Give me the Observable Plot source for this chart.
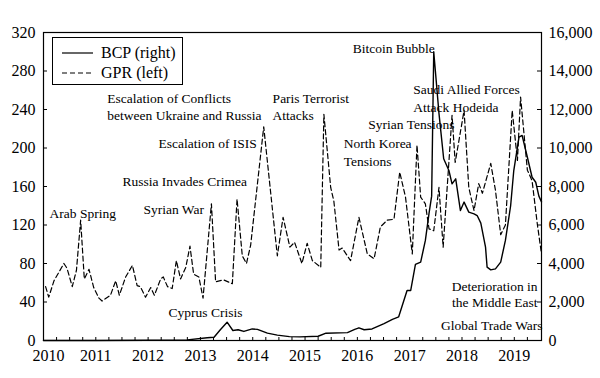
<!DOCTYPE html>
<html>
<head>
<meta charset="utf-8">
<script src="https://cdn.jsdelivr.net/npm/d3@7"></script>
<script src="https://cdn.jsdelivr.net/npm/@observablehq/plot@0.6"></script>
<style>
  html, body { margin: 0; padding: 0; background: #fff; }
  #wrap { position: relative; width: 600px; height: 378px; font-family: "Liberation Serif", "Times New Roman", serif; }
  #legend { position: absolute; left: 52px; top: 37px; width: 131px; height: 48px; box-sizing: border-box;
            border: 1px solid #000; background: #fff; }
  #legend svg { position: absolute; left: 0; top: 0; }
</style>
</head>
<body>
<div id="wrap"></div>
<script>
// GPR index (left axis): [decimal year, value]
const gpr = [
  [2010.04,56],[2010.10,45],[2010.20,62],[2010.39,80],[2010.45,75],[2010.55,56],[2010.63,73],[2010.71,125],
  [2010.78,64],[2010.87,74],[2010.96,55],[2011.06,44],[2011.12,41],[2011.28,47],[2011.38,62],[2011.45,47],
  [2011.57,66],[2011.70,78],[2011.79,57],[2011.85,56],[2011.95,45],[2012.05,55],[2012.12,47],[2012.24,64],
  [2012.29,66],[2012.37,56],[2012.46,54],[2012.54,83],[2012.62,64],[2012.72,76],[2012.80,98],[2012.87,69],
  [2012.97,66],[2013.05,44],[2013.21,142],[2013.29,61],[2013.44,63],[2013.61,59],[2013.70,147],[2013.80,88],
  [2013.88,80],[2013.96,99],[2014.21,222],[2014.47,88],[2014.58,128],[2014.71,97],[2014.80,102],[2014.94,80],
  [2015.04,101],[2015.14,83],[2015.30,76],[2015.36,235],[2015.49,159],[2015.55,145],[2015.65,94],[2015.71,96],
  [2015.87,83],[2016.03,128],[2016.19,90],[2016.32,85],[2016.44,118],[2016.57,125],[2016.70,126],[2016.81,175],
  [2016.92,149],[2017.05,90],[2017.14,203],[2017.21,149],[2017.30,142],[2017.37,116],[2017.46,114],[2017.56,159],
  [2017.64,97],[2017.81,234],[2017.87,185],[2018.04,239],[2018.13,159],[2018.23,135],[2018.32,163],[2018.39,153],
  [2018.55,184],[2018.64,156],[2018.74,110],[2018.83,120],[2018.96,239],[2019.06,187],[2019.12,253],[2019.25,177],
  [2019.34,166],[2019.44,121],[2019.52,90]
];
// Bitcoin price (right axis): [decimal year, USD]
const bcp = [
  [2010.00,0],[2011.00,2],[2012.00,10],[2012.50,15],[2012.75,35],[2013.13,140],[2013.26,170],[2013.38,560],
  [2013.51,950],[2013.62,520],[2013.72,560],[2013.83,470],[2013.99,600],[2014.09,580],[2014.28,380],[2014.47,280],
  [2014.70,200],[2014.90,190],[2015.25,220],[2015.40,380],[2015.81,410],[2015.95,580],[2016.03,660],[2016.13,560],
  [2016.28,600],[2016.51,880],[2016.67,1100],[2016.79,1230],[2016.95,2600],[2017.02,2600],[2017.11,3950],[2017.21,4070],
  [2017.30,5200],[2017.37,6600],[2017.42,7500],[2017.46,15000],[2017.56,11800],[2017.65,9440],[2017.75,8830],[2017.81,8140],
  [2017.88,8400],[2017.97,6750],[2018.04,7190],[2018.13,6670],[2018.23,6580],[2018.29,6490],[2018.36,6100],[2018.45,4850],
  [2018.48,3810],[2018.55,3670],[2018.64,3720],[2018.74,4070],[2018.83,5200],[2018.93,7000],[2018.99,8830],[2019.09,10560],
  [2019.15,10650],[2019.25,9520],[2019.34,8480],[2019.41,8220],[2019.47,7500],[2019.52,7200]
];
// Event annotations: [text, year, GPR-scale value, anchor]
const events = [
  ["Arab Spring", 2010.115, 132, "start"],
  ["Syrian War", 2011.91, 136, "start"],
  ["Russia Invades Crimea", 2011.51, 165.5, "start"],
  ["Escalation of ISIS", 2012.20, 205, "start"],
  ["Escalation of Conflicts", 2011.22, 251.7, "start"],
  ["between Ukraine and Russia", 2011.22, 234, "start"],
  ["Paris Terrorist", 2014.38, 251.7, "start"],
  ["Attacks", 2014.38, 234, "start"],
  ["Bitcoin Bubble", 2015.91, 303.7, "start"],
  ["Saudi Allied Forces", 2017.07, 261, "start"],
  ["Attack Hodeida", 2017.07, 242.4, "start"],
  ["Syrian Tensions", 2016.21, 224.7, "start"],
  ["North Korea", 2015.74, 204, "start"],
  ["Tensions", 2015.74, 186.3, "start"],
  ["Cyprus Crisis", 2012.39, 28.7, "start"],
  ["Deterioration in", 2019.445, 56.4, "end"],
  ["the Middle East", 2019.445, 38.8, "end"],
  ["Global Trade Wars", 2019.54, 14.9, "end"]
];
const yearTicks = [2011, 2012, 2013, 2014, 2015, 2016, 2017, 2018, 2019];
const leftTicks = [0, 40, 80, 120, 160, 200, 240, 280, 320];
const ratio = 50; // 16,000 on the right equals 320 on the left
const seriesNames = ["BCP (right)", "GPR (left)"];

const serif = "Liberation Serif, Times New Roman, serif";
const gprData = gpr.map(([t, v]) => ({t, v}));
const bcpData = bcp.map(([t, v]) => ({t, v: v / ratio}));
const evData = events.map(([text, t, v, anchor]) => ({text, t, v, anchor}));
const startEv = evData.filter(d => d.anchor === "start");
const endEv = evData.filter(d => d.anchor === "end");
const quarterTicks = d3.range(2010.25, 2019.5, 0.25);
const fmt = d3.format(",");

const chart = Plot.plot({
  width: 600, height: 378,
  marginLeft: 43, marginRight: 59, marginTop: 32, marginBottom: 38,
  x: {domain: [2010, 2019.52], axis: null},
  y: {domain: [0, 320], axis: null},
  style: {fontFamily: serif, fontSize: "16px", color: "#000", background: "#fff"},
  marks: [
    Plot.line(gprData, {x: "t", y: "v", stroke: "#000", strokeWidth: 1.2, strokeDasharray: "5,3"}),
    Plot.line(bcpData, {x: "t", y: "v", stroke: "#000", strokeWidth: 1.4}),
    Plot.frame({stroke: "#000", strokeWidth: 1.2}),
    Plot.axisY({anchor: "left", label: null, ticks: leftTicks, tickSize: 0, tickPadding: 8, fontSize: 16, fontFamily: serif}),
    Plot.axisY({anchor: "left", label: null, ticks: leftTicks, tickSize: 4, tickFormat: () => "", dx: 4}),
    Plot.axisY({anchor: "right", label: null, ticks: leftTicks, tickSize: 0, tickPadding: 7, fontSize: 16, fontFamily: serif, tickFormat: d => fmt(d * ratio)}),
    Plot.axisY({anchor: "right", label: null, ticks: leftTicks, tickSize: 5, tickFormat: () => "", dx: -5}),
    Plot.axisX({label: null, ticks: yearTicks, tickSize: 0, tickPadding: 9, fontSize: 16, fontFamily: serif, tickFormat: d => String(d)}),
    Plot.axisX({label: null, ticks: [2010], tickSize: 0, tickPadding: 9, fontSize: 16, fontFamily: serif, tickFormat: d => String(d), dx: 5}),
    Plot.axisX({label: null, ticks: quarterTicks, tickSize: 3, tickFormat: () => "", dy: -3}),
    Plot.text(startEv, {x: "t", y: "v", text: "text", textAnchor: "start", fontSize: 13.5, fontFamily: serif, fill: "#000"}),
    Plot.text(endEv, {x: "t", y: "v", text: "text", textAnchor: "end", fontSize: 13.5, fontFamily: serif, fill: "#000"})
  ]
});
const wrap = document.getElementById("wrap");
wrap.appendChild(chart);
const lg = document.createElement("div");
lg.id = "legend";
lg.innerHTML = `<svg width="131" height="48" font-family="${serif}" font-size="16">
  <line x1="9" x2="40" y1="15" y2="15" stroke="#000" stroke-width="1.2"/>
  <line x1="9" x2="40" y1="35" y2="35" stroke="#000" stroke-width="1.2" stroke-dasharray="5,3"/>
  <text x="48" y="20">${seriesNames[0]}</text>
  <text x="48" y="40">${seriesNames[1]}</text>
</svg>`;
wrap.appendChild(lg);
</script>
</body>
</html>
